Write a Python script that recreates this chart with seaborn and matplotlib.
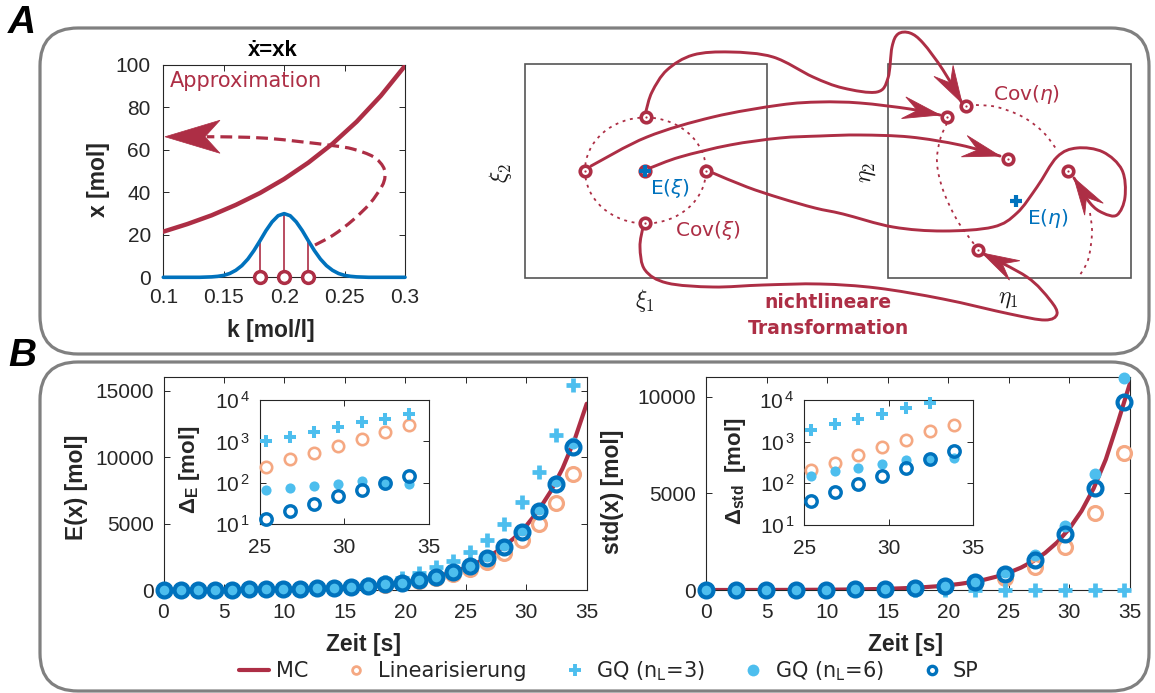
import numpy as np
import matplotlib
matplotlib.use("Agg")
import matplotlib.pyplot as plt
import seaborn as sns
from matplotlib.path import Path
from matplotlib.patches import PathPatch, FancyBboxPatch, Rectangle, Ellipse, Polygon
from matplotlib.lines import Line2D
from matplotlib.ticker import LogLocator, NullFormatter

sns.set_theme(style="ticks")
plt.rcParams.update({
    "font.family": ["Liberation Sans", "DejaVu Sans"],
    "mathtext.fontset": "custom",
    "mathtext.rm": "Liberation Sans",
    "mathtext.it": "Liberation Sans:italic",
    "mathtext.bf": "Liberation Sans:bold",
    "axes.facecolor": "white",
    "figure.facecolor": "white",
    "axes.edgecolor": "#262626",
    "text.color": "#262626",
})

# ---------------- panel A: x(k) and the distribution of k ----------------
k_grid = [0.10, 0.12, 0.14, 0.16, 0.18, 0.20, 0.22, 0.24, 0.26, 0.28, 0.30]
x_of_k = [21.5, 25.1, 29.2, 34.1, 39.7, 46.3, 54.0, 62.9, 73.3, 85.5, 99.6]

k_pdf = [0.10, 0.13, 0.14, 0.145, 0.15, 0.155, 0.16, 0.165, 0.17, 0.175,
         0.18, 0.185, 0.19, 0.195, 0.20, 0.205, 0.21, 0.215, 0.22, 0.225,
         0.23, 0.235, 0.24, 0.245, 0.25, 0.255, 0.26, 0.27, 0.30]
pdf_k = [0.0, 0.0, 0.2, 0.45, 0.9, 1.8, 3.3, 5.5, 8.6, 12.6,
         17.2, 22.0, 26.1, 29.0, 30.0, 29.0, 26.1, 22.0, 17.2, 12.6,
         8.6, 5.5, 3.3, 1.8, 0.9, 0.45, 0.2, 0.0, 0.0]

k_sigma = [0.18, 0.20, 0.22]
pdf_sigma = [17.2, 30.0, 17.2]

# dashed "Approximation" arrow (k, x)
approx_k = [0.2255, 0.2407, 0.257, 0.271, 0.2807, 0.2834, 0.282, 0.2738,
            0.257, 0.2407, 0.2131, 0.1855, 0.158, 0.136]
approx_x = [15.2, 19.9, 27.0, 34.8, 42.7, 47.4, 52.0, 56.8,
            60.4, 62.0, 63.9, 65.5, 66.1, 66.2]
approx_tip = (0.1014, 66.2)

# ---------------- panel B: mean and standard deviation over time ----------------
t_mc = list(range(36))
E_mc = [10, 12.2, 14.9, 18.3, 22.3, 27.3, 33.4, 40.9, 50.2, 61.5, 75.4, 92.5,
        113.5, 139.3, 171.0, 210.1, 258.2, 317.5, 390.6, 480.6, 591.5, 728.3,
        897.3, 1105.9, 1363.7, 1682, 2075.5, 2562, 3164, 3908, 4829, 5970,
        7384, 9137, 11310, 14010]
std_mc = [0, 0.24, 0.6, 1.1, 1.8, 2.7, 4.0, 5.8, 8.1, 11.2, 15.2, 20.6,
          27.6, 36.8, 48.8, 64.5, 84.7, 110.9, 145.0, 189.1, 246.4, 319.9,
          414.7, 536.9, 694.1, 896.4, 1156.5, 1490.8, 1920.5, 2471, 3179, 4087,
          5254, 6750, 8672, 10700]

t_e = [0.00, 1.41, 2.82, 4.23, 5.64, 7.05, 8.46, 9.87, 11.28, 12.69, 14.10,
       15.51, 16.92, 18.33, 19.74, 21.15, 22.56, 23.97, 25.38, 26.79, 28.20,
       29.61, 31.02, 32.43, 33.84]
E_lin = [10, 13.3, 17.6, 23.3, 30.9, 41.0, 54.3, 72.0, 95.4, 126.5, 167.8,
         222.4, 294.9, 391, 518, 687, 911, 1208, 1601, 2123, 2815, 3732,
         4948, 6560, 8697]
E_gq3 = [10, 13.4, 17.8, 23.8, 31.8, 42.6, 57.4, 77.5, 105, 142, 205, 290,
         420, 600, 900, 1254, 1705, 2182, 2841, 3740, 4960, 6636, 8876,
         11642, 15400]
E_gq6 = [10, 13.3, 17.6, 23.4, 31.1, 41.4, 55.1, 73.4, 97.9, 130.7, 174.6,
         233.4, 312.3, 418, 560, 752, 1010, 1360, 1890, 2525, 3385, 4540,
         6105, 8190, 11025]
E_sp = [10, 13.3, 17.6, 23.4, 31.1, 41.4, 55.1, 73.4, 97.9, 130.7, 174.6,
        233.4, 312.3, 418, 560, 751, 1008, 1354, 1808, 2430, 3270, 4400,
        5928, 7994, 10785]

t_s = [0.00, 2.47, 4.93, 7.40, 9.87, 12.34, 14.80, 17.27, 19.74, 22.20,
       24.67, 27.14, 29.60, 32.07, 34.54]
S_lin = [0, 0.8, 2.6, 6.5, 14.2, 29, 57, 109, 205, 376, 640, 1190, 2240, 4000, 7100]
S_gq3 = [0, 0, 0, 0, 0, 0, 0, 0, 0, 0, 0, 0, 0, 0, 0]
S_gq6 = [0, 0.8, 2.7, 6.6, 14.6, 30.4, 61, 121, 236, 440, 950, 1810, 3330, 6000, 10950]
S_sp = [0, 0.8, 2.7, 6.6, 14.6, 30.4, 61, 119, 228, 437, 830, 1550, 2900, 5293, 9740]

# absolute errors against MC (insets)
t_in = t_e[-7:]
dE_lin = [245, 372, 537, 776, 1148, 1660, 2455]
dE_gq3 = [1020, 1290, 1660, 2190, 2880, 3550, 4470]
dE_gq6 = [69, 75, 85, 95, 109, 100, 95]
dE_sp = [13.7, 21, 31, 47, 68, 98, 145]
dS_lin = [209, 316, 490, 730, 1100, 1780, 2570]
dS_gq3 = [1900, 2650, 3500, 4700, 6400, 8700, np.nan]   # last one off scale
dS_gq6 = [152, 200, 234, 290, 363, 380, 407]
dS_sp = [38, 61, 96, 150, 234, 375, 590]

# ---------------- schematic of the sigma-point transformation (pixels) ----------------
xi_pts = [(645.7, 117.0), (585.3, 170.7), (706.0, 170.7), (645.0, 223.3)]
xi_mean = (645.0, 170.7)
eta_pts = [(966.0, 106.0), (947.3, 117.0), (1008.3, 159.3), (1068.3, 170.7), (978.3, 250.0)]
eta_mean = (1016.0, 200.7)

arrow_paths = [
    [(646, 111), (652, 92), (667, 70), (693, 55), (730, 52), (773, 57), (813, 77),
     (843, 88), (877, 92), (888, 78), (892, 47), (898, 34), (910, 33), (923, 43),
     (943, 70), (962, 103)],
    [(591, 166), (647, 137), (713, 117), (780, 105), (820, 102), (860, 103),
     (910, 109), (940, 115)],
    [(650, 168), (680, 157), (730, 145), (780, 138), (820, 136), (860, 135),
     (910, 137), (960, 145), (1000, 156)],
    [(713, 173), (747, 187), (780, 198), (815, 208), (843, 214), (893, 227),
     (943, 231), (993, 227), (1017, 213), (1037, 187), (1057, 157), (1077, 148),
     (1103, 152), (1122, 170), (1125, 197), (1117, 215), (1103, 213), (1090, 203),
     (1074, 178)],
    [(643, 227), (640, 247), (645, 270), (667, 283), (713, 287), (763, 285),
     (820, 284), (877, 288), (943, 299), (1010, 314), (1045, 320), (1057, 314),
     (1050, 300), (1027, 277), (982, 253)],
]
eta_dotted = [
    [(976, 105), (997, 107), (1023, 117), (1043, 132), (1057, 150)],
    [(1090, 213), (1092, 233), (1088, 260), (1078, 278)],
    [(947, 123), (940, 140), (937, 163), (943, 190), (957, 220), (974, 244)],
]

RED = "#AD2E45"
ORANGE = "#F5A882"
LIGHT = "#4DBEEE"
BLUE = "#0072BD"
INK = "#262626"
FRAME = "#808080"

W, H = 1155, 693
fig = plt.figure(figsize=(W / 100, H / 100), dpi=100)


def px_axes(x0, y0, x1, y1, **kw):
    return fig.add_axes([x0 / W, 1 - y1 / H, (x1 - x0) / W, (y1 - y0) / H], **kw)


def smooth_path(points):
    p = np.asarray(points, dtype=float)
    n = len(p)
    verts, codes = [p[0]], [Path.MOVETO]
    for i in range(n - 1):
        p0 = p[i - 1] if i > 0 else p[i]
        p1, p2 = p[i], p[i + 1]
        p3 = p[i + 2] if i + 2 < n else p[i + 1]
        verts += [p1 + (p2 - p0) / 6.0, p2 - (p3 - p1) / 6.0, p2]
        codes += [Path.CURVE4] * 3
    return Path(verts, codes)


def barbed_head(tip, back, length, half_width, notch):
    tip = np.asarray(tip, float)
    back = np.asarray(back, float)
    d = tip - back
    d = d / np.hypot(*d)
    nrm = np.array([-d[1], d[0]])
    return np.array([tip, tip - length * d + half_width * nrm,
                     tip - (length - notch) * d, tip - length * d - half_width * nrm])


def style_axes(ax, pad_x=8, pad_y=7, size=15):
    ax.tick_params(which="both", direction="in", top=True, right=True,
                   colors=INK, labelsize=size, width=0.7)
    ax.tick_params(axis="x", pad=pad_x)
    ax.tick_params(axis="y", pad=pad_y)
    ax.tick_params(which="major", length=4.5)
    ax.tick_params(which="minor", length=2.3)
    for s in ax.spines.values():
        s.set_visible(True)
        s.set_color(INK)
        s.set_linewidth(0.8)
    ax.set_xlabel("")
    ax.set_ylabel("")


def label(ax, x, y, text, rot=0, size=16.5):
    ax.text(x, y, text, transform=ax.transAxes, rotation=rot, ha="center",
            va="center", fontsize=size, fontweight="bold", color=INK,
            family="Liberation Sans")


MARK = {
    "lin": dict(marker="o", markersize=10, markeredgewidth=2.3,
                markerfacecolor="none", markeredgecolor=ORANGE, color=ORANGE),
    "gq3": dict(marker="+", markersize=10.5, markeredgewidth=3.4,
                markeredgecolor=LIGHT, color=LIGHT),
    "gq6": dict(marker="o", markersize=8.6, markeredgewidth=0,
                markerfacecolor=LIGHT, markeredgecolor=LIGHT, color=LIGHT),
    "sp": dict(marker="o", markersize=10, markeredgewidth=3.0,
               markerfacecolor="none", markeredgecolor=BLUE, color=BLUE),
}


def marks(ax, x, y, kind, scale=1.0, z=3):
    st = dict(MARK[kind])
    st["markersize"] *= scale
    st["markeredgewidth"] *= scale
    sns.lineplot(x=x, y=y, ax=ax, linestyle="", legend=False, clip_on=False,
                 zorder=z, **st)


# ---------- frames and the schematic, drawn in pixel coordinates ----------
ov = fig.add_axes([0, 0, 1, 1])
ov.set_xlim(0, W)
ov.set_ylim(H, 0)
ov.axis("off")
for (x0, y0, x1, y1) in [(40, 28, 1149, 354), (40, 362, 1149, 691)]:
    ov.add_patch(FancyBboxPatch((x0, y0), x1 - x0, y1 - y0,
                                boxstyle="round,pad=0,rounding_size=38",
                                fc="none", ec=FRAME, lw=2.3))

ov.add_patch(Rectangle((525, 64.3), 242.3, 214, fc="none", ec="#555555", lw=1.2))
ov.add_patch(Rectangle((887.7, 64.3), 243, 213.4, fc="none", ec="#555555", lw=1.2))
ov.add_patch(Ellipse((645.5, 170.5), 121, 106, fc="none", ec=RED, lw=1.3,
                     ls=(0, (1.6, 2.6))))
for seg in eta_dotted:
    ov.add_patch(PathPatch(smooth_path(seg), fc="none", ec=RED, lw=1.3,
                           ls=(0, (1.6, 2.6))))
for pts in arrow_paths:
    ov.add_patch(PathPatch(smooth_path(pts), fc="none", ec=RED, lw=2.1,
                           capstyle="round", zorder=3))
    ov.add_patch(Polygon(barbed_head(pts[-1], pts[-2], 37, 11, 14), closed=True,
                         fc=RED, ec=RED, lw=0.6, zorder=4))
for px, py in xi_pts + [xi_mean] + eta_pts:
    ov.plot(px, py, ls="", marker="o", ms=7.6, mew=2.6, mfc="white", mec=RED, zorder=5)
    ov.plot(px, py, ls="", marker="o", ms=1.6, mew=0, color=RED, zorder=6)
ov.plot(*xi_mean, ls="", marker="+", ms=9, mew=3, color=BLUE, zorder=7)
ov.plot(*eta_mean, ls="", marker="+", ms=9, mew=3, color=BLUE, zorder=7)

ov.text(501, 173, r"$\xi_2$", rotation=90, ha="center", va="center", fontsize=17,
        math_fontfamily="cm", color="#1a1a1a")
ov.text(645, 301, r"$\xi_1$", ha="center", va="center", fontsize=17,
        math_fontfamily="cm", color="#1a1a1a")
ov.text(867, 172, r"$\eta_2$", rotation=90, ha="center", va="center", fontsize=17,
        math_fontfamily="cm", color="#1a1a1a")
ov.text(1008, 299, r"$\eta_1$", ha="center", va="center", fontsize=17,
        math_fontfamily="cm", color="#1a1a1a")
sch = dict(ha="left", va="center", fontsize=14.5, family="DejaVu Sans",
           math_fontfamily="dejavusans")
ov.text(650, 189, r"E($\xi$)", color=BLUE, **sch)
ov.text(675, 230, r"Cov($\xi$)", color=RED, **sch)
ov.text(993, 95, r"Cov($\eta$)", color=RED, **sch)
ov.text(1027, 219, r"E($\eta$)", color=BLUE, **sch)
ov.text(828, 302, "nichtlineare", ha="center", va="center", fontsize=13.5,
        fontweight="bold", family="DejaVu Sans", color=RED)
ov.text(828, 328, "Transformation", ha="center", va="center", fontsize=13.5,
        fontweight="bold", family="DejaVu Sans", color=RED)
ov.text(273, 50, "ẋ=xk", ha="center", va="center", fontsize=16, fontweight="bold",
        family=["Liberation Sans", "DejaVu Sans"], color="black")

fig.text(8 / W, 1 - 23 / H, "A", fontsize=28, fontweight="bold", style="italic",
         va="center", ha="left", color="black")
fig.text(8 / W, 1 - 356 / H, "B", fontsize=28, fontweight="bold", style="italic",
         va="center", ha="left", color="black")

# ---------- panel A, left: x(k) ----------
axA = px_axes(163.3, 65, 405, 277.3)
sns.lineplot(x=k_grid, y=x_of_k, ax=axA, color=RED, lw=3.2, legend=False, zorder=3)
sns.lineplot(x=k_pdf, y=pdf_k, ax=axA, color=BLUE, lw=2.6, legend=False,
             clip_on=False, zorder=4)
axA.vlines(k_sigma, 0, pdf_sigma, color=RED, lw=1.2, zorder=3)
sns.lineplot(x=k_sigma, y=[0, 0, 0], ax=axA, linestyle="", marker="o",
             markersize=8.5, markeredgewidth=2.5, markerfacecolor="white",
             markeredgecolor=RED, color=RED, legend=False, clip_on=False, zorder=5)
axA.set_xlim(0.1, 0.3)
axA.set_ylim(0, 100)
axA.set_xticks([0.1, 0.15, 0.2, 0.25, 0.3])
axA.set_xticklabels(["0.1", "0.15", "0.2", "0.25", "0.3"])
axA.set_yticks([0, 20, 40, 60, 80, 100])
style_axes(axA, pad_x=8, pad_y=9)
axA.add_patch(PathPatch(smooth_path(list(zip(approx_k, approx_x))), fc="none",
                        ec=RED, lw=2.3, ls=(0, (3.7, 1.9)),
                        transform=axA.transData, zorder=3))
head_disp = barbed_head(axA.transData.transform(approx_tip),
                        axA.transData.transform((approx_k[-1], approx_x[-1])),
                        55, 16.5, 15)
axA.add_patch(Polygon(axA.transData.inverted().transform(head_disp), closed=True,
                      fc=RED, ec=RED, lw=0.5, clip_on=False, zorder=4))
axA.text(0.028, 0.925, "Approximation", transform=axA.transAxes, ha="left",
         va="center", fontsize=15, color=RED, family="DejaVu Sans")
label(axA, (271 - 163.3) / 241.7, (277.3 - 331) / 212.3, "k [mol/l]")
label(axA, (98 - 163.3) / 241.7, (277.3 - 180) / 212.3, "x [mol]", rot=90)

# ---------- panel B, left: expected value ----------
axL = px_axes(163.5, 377.3, 586.7, 590)
sns.lineplot(x=t_mc, y=E_mc, ax=axL, color=RED, lw=3, legend=False, zorder=2)
marks(axL, t_e, E_lin, "lin")
marks(axL, t_e, E_gq3, "gq3")
marks(axL, t_e, E_gq6, "gq6")
marks(axL, t_e, E_sp, "sp")
axL.set_xlim(0, 35)
axL.set_ylim(0, 16000)
axL.set_xticks(range(0, 36, 5))
axL.set_yticks([0, 5000, 10000, 15000])
style_axes(axL, pad_x=9, pad_y=7)
label(axL, (363 - 163.5) / 423.2, (590 - 645) / 212.7, "Zeit [s]")
label(axL, (76 - 163.5) / 423.2, (590 - 487) / 212.7, "E(x) [mol]", rot=90)

# ---------- panel B, right: standard deviation ----------
axR = px_axes(706, 377.3, 1130, 590)
sns.lineplot(x=t_mc, y=std_mc, ax=axR, color=RED, lw=3, legend=False, zorder=2)
marks(axR, t_s, S_lin, "lin")
marks(axR, t_s, S_gq3, "gq3")
marks(axR, t_s, S_gq6, "gq6")
marks(axR, t_s, S_sp, "sp")
axR.set_xlim(0, 35)
axR.set_ylim(0, 11000)
axR.set_xticks(range(0, 36, 5))
axR.set_yticks([0, 5000, 10000])
style_axes(axR, pad_x=9, pad_y=7)
label(axR, (906 - 706) / 424, (590 - 645) / 212.7, "Zeit [s]")
label(axR, (612 - 706) / 424, (590 - 492) / 212.7, "std(x) [mol]", rot=90)


# ---------- insets: absolute deviation from MC on a log scale ----------
def inset(rect, d_lin, d_gq3, d_gq6, d_sp, ylab, lab_xy):
    ax = px_axes(*rect)
    ax.set_facecolor("white")
    ax.set_zorder(5)
    marks(ax, t_in, d_lin, "lin", scale=0.82)
    marks(ax, t_in, d_gq3, "gq3", scale=0.85)
    marks(ax, t_in, d_gq6, "gq6", scale=0.85)
    marks(ax, t_in, d_sp, "sp", scale=0.82)
    ax.set_yscale("log")
    ax.set_xlim(25, 35)
    ax.set_ylim(10, 1e4)
    ax.set_xticks([25, 30, 35])
    ax.set_yticks([10, 100, 1000, 10000])
    ax.set_yticklabels([r"$10^{\,1}$", r"$10^{\,2}$", r"$10^{\,3}$", r"$10^{\,4}$"])
    ax.yaxis.set_minor_locator(LogLocator(base=10, subs=np.arange(2, 10)))
    ax.yaxis.set_minor_formatter(NullFormatter())
    style_axes(ax, pad_x=10, pad_y=7)
    ax.text(lab_xy[0], lab_xy[1], ylab, transform=ax.transAxes, rotation=90,
            ha="center", va="center", fontsize=16, fontweight="bold", color=INK)
    return ax


inset((260, 400, 428.7, 524.3), dE_lin, dE_gq3, dE_gq6, dE_sp,
      r"$\mathbf{\Delta_{E}}$ [mol]", (-0.415, 0.44))
inset((804.3, 400, 973.3, 525), dS_lin, dS_gq3, dS_gq6, dS_sp,
      r"$\mathbf{\Delta_{std}}$  [mol]", (-0.41, 0.43))

# ---------- legend ----------
handles = [
    Line2D([], [], color=RED, lw=3),
    Line2D([], [], ls="", marker="o", ms=5.6, mew=2.0, mfc="none", mec=ORANGE),
    Line2D([], [], ls="", marker="+", ms=8, mew=2.8, mec=LIGHT),
    Line2D([], [], ls="", marker="o", ms=8.5, mew=0, mfc=LIGHT, mec=LIGHT),
    Line2D([], [], ls="", marker="o", ms=6, mew=2.4, mfc="none", mec=BLUE),
]
names = ["MC", "Linearisierung", r"GQ (n$_\mathrm{L}$=3)", r"GQ (n$_\mathrm{L}$=6)", "SP"]
leg = fig.legend(handles, names, loc="center", bbox_to_anchor=(609 / W, 1 - 671 / H),
                 ncol=5, frameon=False, prop=dict(family="DejaVu Sans", size=15),
                 handlelength=1.45, handletextpad=0.3, columnspacing=1.6,
                 borderaxespad=0, borderpad=0)
for t in leg.get_texts():
    t.set_math_fontfamily("dejavusans")
    t.set_color(INK)

fig.savefig("out.png", dpi=100, facecolor="white")
